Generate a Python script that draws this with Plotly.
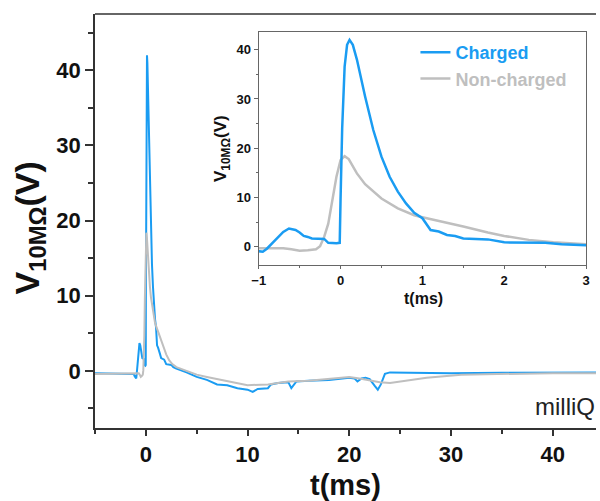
import plotly.graph_objects as go

# ---- data ----
charged_t = [-5, -3, -1.5, -1.2, -1.1, -1.05, -1.0, -0.95, -0.9, -0.85, -0.8, -0.75, -0.7, -0.63,
             -0.55, -0.5, -0.45, -0.4, -0.35, -0.2, -0.15, -0.05, -0.01, 0.0, 0.02, 0.05, 0.08,
             0.11, 0.15, 0.2, 0.3, 0.4, 0.5, 0.6, 0.7, 0.8, 0.9, 1.0, 1.05, 1.1, 1.2, 1.3, 1.4,
             1.5, 1.8, 1.9, 2.0, 2.5, 2.7, 3.0, 3.5, 4, 5, 6, 7, 8, 9, 10, 10.5, 11, 12, 12.3,
             13, 14, 14.3, 14.8, 16, 18, 20, 20.5, 20.8, 21.2, 21.6, 22, 22.5, 22.8, 23.1, 23.5,
             24, 30, 35, 44.3]
charged_v = [-0.3, -0.3, -0.3, -0.4, -0.7, -0.8, -0.8, -1.0, -0.4, 0.5, 1.4, 2.2, 3.0, 3.7,
             3.4, 2.9, 2.2, 2.0, 1.7, 1.6, 0.8, 0.7, 0.8, 9.5, 24, 36.6, 41,
             42, 41, 38, 30.5, 23.7, 18.3, 14.2, 11.2, 8.8, 6.9, 5.8, 4.7, 3.4, 3.1, 2.4, 2.2,
             1.7, 1.5, 1.2, 0.9, 0.8, 0.5, 0.3, 0.1, -0.2, -0.8, -1.2, -1.8, -1.9, -2.3, -2.5, -2.8, -2.4, -2.3, -1.8,
             -1.6, -1.5, -2.3, -1.4, -1.3, -1.2, -0.9, -1.0, -1.4, -1.0, -0.9, -1.1, -2.0, -2.5, -1.8, -0.4,
             -0.2, -0.3, -0.25, -0.2]

noncharged_t = [-5, -2, -1.0, -0.7, -0.6, -0.5, -0.4, -0.3, -0.25, -0.2, -0.15, -0.1, -0.05, 0.0,
                0.05, 0.1, 0.2, 0.3, 0.4, 0.5, 0.7, 0.9, 1.0, 1.3, 1.5, 1.8, 2.0, 2.3, 2.6, 3.0,
                4, 5, 6, 8, 10, 12, 14, 16, 18, 20, 21, 22, 23, 24, 25, 27.6, 31, 35, 40, 44.3]
noncharged_v = [-0.4, -0.4, -0.3, -0.3, -0.5, -0.8, -0.7, -0.5, 0.1, 2.0, 4.7, 9.5, 14.2, 17.6,
                18.4, 17.8, 14.9, 12.7, 11.2, 9.8, 7.8, 6.4, 6.0, 4.9, 4.1, 2.9, 2.2, 1.4, 0.9, 0.5,
                0.0, -0.5, -0.8, -1.4, -1.9, -1.8, -1.4, -1.3, -1.1, -0.8, -1.0, -1.3, -1.5, -1.6,
                -1.4, -0.9, -0.5, -0.4, -0.3, -0.3]

main_xticks = [0, 10, 20, 30, 40]
main_yticks = [0, 10, 20, 30, 40]
inset_xticks = [-1, 0, 1, 2, 3]
inset_yticks = [0, 10, 20, 30, 40]

BLUE = "#1a9cf2"
GRAY = "#bfbfbf"
FONT = "Liberation Sans"
AX = "#333333"

fig = go.Figure()
# main plot
fig.add_trace(go.Scatter(x=charged_t, y=charged_v, mode="lines", line=dict(color=BLUE, width=2),
                         showlegend=False, xaxis="x", yaxis="y"))
fig.add_trace(go.Scatter(x=noncharged_t, y=noncharged_v, mode="lines", line=dict(color=GRAY, width=2),
                         showlegend=False, xaxis="x", yaxis="y"))
# inset
fig.add_trace(go.Scatter(x=noncharged_t, y=noncharged_v, mode="lines", line=dict(color=GRAY, width=2.5),
                         name=f'<span style="color:{GRAY}">Non-charged</span>', xaxis="x2", yaxis="y2"))
fig.add_trace(go.Scatter(x=charged_t, y=charged_v, mode="lines", line=dict(color=BLUE, width=2.5),
                         name=f'<span style="color:{BLUE}">Charged</span>', xaxis="x2", yaxis="y2"))

W, H = 600, 501
L, R, T, B = 95, 0, 14, 73
pw, ph = W - L - R, H - T - B

def px(xp):
    return (xp - L) / pw

def py(yp):
    return (H - B - yp) / ph

fig.update_layout(
    width=W, height=H,
    margin=dict(l=L, r=R, t=T, b=B),
    paper_bgcolor="white", plot_bgcolor="white",
    font=dict(family=FONT, color="#111"),
    xaxis=dict(domain=[0, 1], range=[-5, 44.25], showgrid=False, zeroline=False,
               showline=True, linecolor=AX, linewidth=1.5,
               tickmode="array", tickvals=main_xticks, ticks="outside", ticklen=6, tickwidth=1.5, tickcolor=AX,
               minor=dict(dtick=5, tick0=0, ticks="outside", ticklen=4, tickwidth=1.5, tickcolor=AX),
               tickfont=dict(family=FONT, size=22, weight="bold", color="#111")),
    yaxis=dict(domain=[0, 1], range=[-7.6, 47.5], showgrid=False, zeroline=False,
               showline=True, linecolor=AX, linewidth=1.5,
               tickmode="array", tickvals=main_yticks, ticks="outside", ticklen=8, tickwidth=1.5, tickcolor=AX,
               minor=dict(dtick=5, tick0=0, ticks="outside", ticklen=5, tickwidth=1.5, tickcolor=AX),
               tickfont=dict(family=FONT, size=22, weight="bold", color="#111")),
    xaxis2=dict(domain=[px(260), px(590)], anchor="y2", range=[-1, 3], showgrid=False, zeroline=False,
                showline=True, mirror=True, linecolor="#666", linewidth=1,
                tickmode="array", tickvals=inset_xticks, ticks="outside", ticklen=3, tickcolor="#666",
                minor=dict(dtick=0.5, tick0=0, ticks="outside", ticklen=2, tickcolor="#666"),
                tickfont=dict(family=FONT, size=13, weight="bold", color="#111")),
    yaxis2=dict(domain=[py(265), py(32)], anchor="x2", range=[-3.7, 43.6], showgrid=False, zeroline=False,
                showline=True, mirror=True, linecolor="#666", linewidth=1,
                tickmode="array", tickvals=inset_yticks, ticks="outside", ticklen=4, tickcolor="#666",
                minor=dict(dtick=5, tick0=0, ticks="outside", ticklen=2, tickcolor="#666"),
                tickfont=dict(family=FONT, size=13, weight="bold", color="#111")),
    legend=dict(x=px(418), y=py(34), xanchor="left", yanchor="top", bgcolor="rgba(0,0,0,0)",
                traceorder="reversed", font=dict(family=FONT, size=18, weight="bold"),
                itemwidth=30, tracegroupgap=0),
    showlegend=True,
)

# top frame line of main plot
fig.add_shape(type="line", xref="paper", yref="paper", x0=0, x1=1, y0=1, y1=1,
              line=dict(color=AX, width=1.5))

ann = [
    dict(text="<b>t(ms)</b>", x=0.5, y=py(485), size=29, color="#111"),
    dict(text="<b>V<sub>10MΩ</sub>(V)</b>", x=px(28), y=py(228), size=34, color="#111", textangle=-90),
    dict(text="<b>t(ms)</b>", x=px(426), y=py(298), size=16, color="#111"),
    dict(text="<b>V<sub>10MΩ</sub>(V)</b>", x=px(223), y=py(148), size=17, color="#111", textangle=-90),
    dict(text="milliQ", x=px(537), y=py(406), xanchor="left", size=24, color="#222"),
]
for a in ann:
    a.setdefault("xanchor", "center")
    size = a.pop("size")
    color = a.pop("color")
    fig.add_annotation(xref="paper", yref="paper", showarrow=False, yanchor="middle",
                       font=dict(family=FONT, color=color, size=size), **a)

fig.write_html("out.html")
